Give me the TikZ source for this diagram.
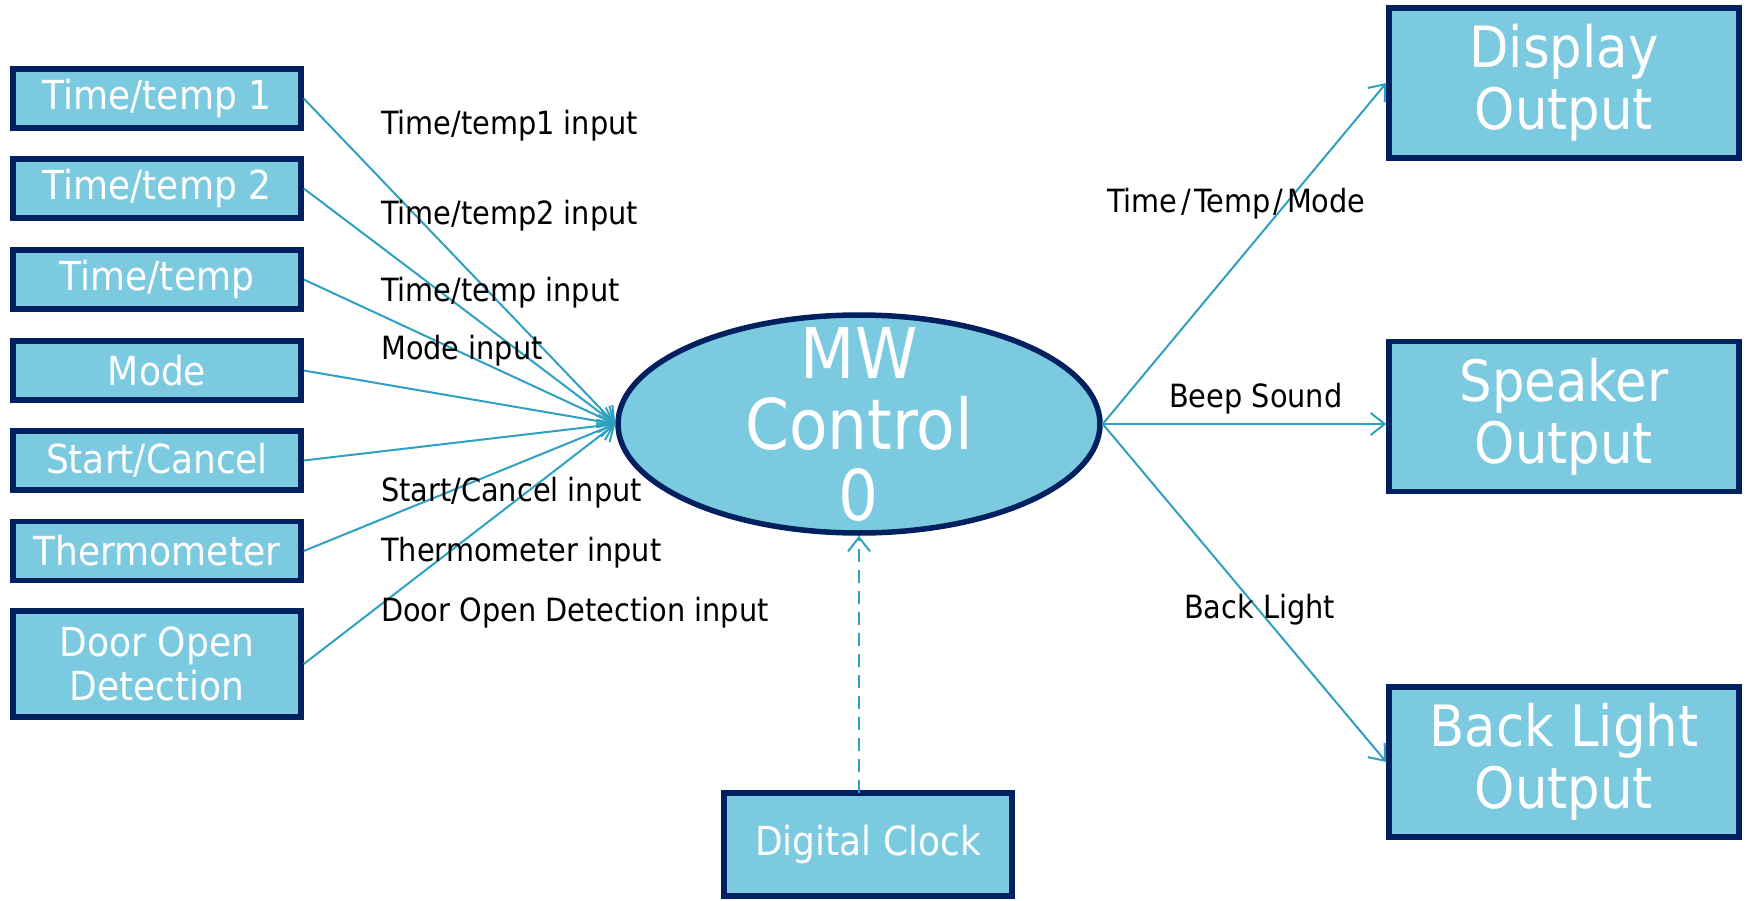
\documentclass[tikz,border=0pt]{standalone}
\usepackage{fontspec}
\setmainfont{DejaVu Sans Condensed}
\usetikzlibrary{arrows.meta,shapes.geometric}
\definecolor{boxfill}{RGB}{123,202,224}
\definecolor{boxedge}{RGB}{0,32,96}
\definecolor{arrowc}{RGB}{46,160,192}
\tikzset{
  inbox/.style={draw=boxedge,line width=5.5pt,fill=boxfill,text=white,minimum width=288pt,minimum height=59pt,inner sep=0pt,align=center,font=\fontsize{40}{44}\selectfont},
  outbox/.style={draw=boxedge,line width=5.5pt,fill=boxfill,text=white,minimum width=350pt,minimum height=150pt,inner sep=0pt,align=center,font=\fontsize{57}{62}\selectfont},
  conn/.style={draw=arrowc,line width=2pt,-{Straight Barb[length=14pt,width=22pt,line width=2pt]}},
  lbl/.style={anchor=mid west,inner sep=0pt,text=black,font=\fontsize{32}{36}\selectfont}
}
\newcommand{\myslash}{\kern3.5pt/\kern3.5pt}
\begin{document}
\begin{tikzpicture}[x=1pt,y=-1pt]
\path[use as bounding box] (0,0) rectangle (1746,901);
% central ellipse
\node[ellipse,draw=boxedge,line width=5.5pt,fill=boxfill,minimum width=482pt,minimum height=218pt,inner sep=0pt] (mw) at (859,424) {};
\node[text=white,align=center,inner sep=0pt,font=\fontsize{70}{71}\selectfont] (mwtext) at (859,424) {MW\\Control\\0};
% inputs
\node[inbox] (t1) at (157,98.5) {Time/temp 1};
\node[inbox] (t2) at (157,188.5) {Time/temp 2};
\node[inbox] (t3) at (157,279.5) {Time/temp};
\node[inbox] (md) at (157,370.5) {Mode};
\node[inbox] (sc) at (157,460.5) {Start/Cancel};
\node[inbox] (th) at (157,551) {Thermometer};
\node[inbox,minimum height=106pt] (dr) at (157,664) {Door Open\\Detection};
% outputs
\node[outbox] (dp) at (1564,83) {Display\\Output};
\node[outbox] (sp) at (1564,416.5) {Speaker\\Output};
\node[outbox] (bl) at (1564,762) {Back Light\\Output};
% clock
\node[inbox,minimum height=103pt] (clk) at (868,844.5) {Digital Clock};
\coordinate (clktop) at (859,793);
% connectors
\foreach \n in {t1,t2,t3,md,sc,th,dr} \draw[conn] (\n.east) -- (mw.west);
\draw[conn] (mw.east) -- (dp.west);
\draw[conn] (mw.east) -- (mw.east -| sp.west);
\draw[conn] (mw.east) -- (bl.west);
\draw[conn,dash pattern=on 13pt off 8pt] (clktop) -- (mw.south);
% labels
\node[lbl] (l1) at (381,132) {Time/temp1 input};
\node[lbl] (l2) at (381,222) {Time/temp2 input};
\node[lbl] (l3) at (381,299) {Time/temp input};
\node[lbl] (l4) at (381,357) {Mode input};
\node[lbl] (l5) at (381,499) {Start/Cancel input};
\node[lbl] (l6) at (381,559) {Thermometer input};
\node[lbl] (l7) at (381,619) {Door Open Detection input};
\node[lbl] (o1) at (1107,210) {Time\myslash Temp\myslash Mode};
\node[lbl] (o2) at (1169,405) {Beep Sound};
\node[lbl] (o3) at (1184,616) {Back Light};
\end{tikzpicture}
\end{document}
